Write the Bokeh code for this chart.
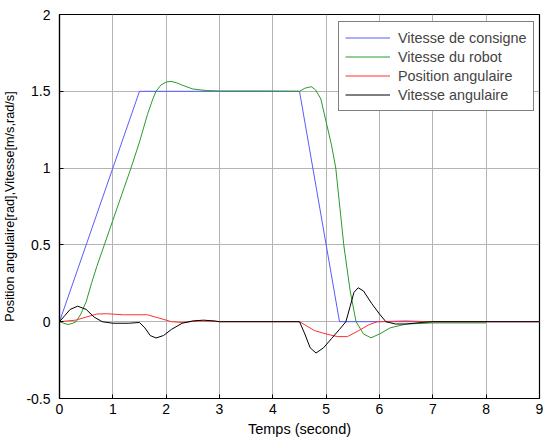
from bokeh.plotting import figure
from bokeh.models import Range1d, FixedTicker, Legend, LegendItem
from bokeh.embed import file_html
from bokeh.resources import INLINE

# Vitesse de consigne
t_cons = [0, 1.5, 4.5, 5.25, 9]
v_cons = [0, 1.5, 1.5, 0, 0]

# Vitesse du robot
t_rob = [0, 0.08, 0.16, 0.25, 0.31, 0.4, 0.5, 0.6, 0.7, 0.84, 1.0, 1.17, 1.34, 1.5, 1.65,
         1.75, 1.81, 1.9, 2.0, 2.09, 2.2, 2.3, 2.5, 2.75, 3.0, 3.8, 4.5, 4.6, 4.72, 4.8,
         4.9, 5.0, 5.1, 5.18, 5.33, 5.45, 5.56, 5.7, 5.84, 6.0, 6.2, 6.5, 7.0, 8.0]
v_rob = [0, -0.01, -0.018, -0.01, 0.0, 0.05, 0.13, 0.25, 0.36, 0.5, 0.66, 0.83, 1.0, 1.17, 1.35,
         1.45, 1.5, 1.54, 1.56, 1.565, 1.555, 1.54, 1.515, 1.505, 1.502, 1.502, 1.5, 1.52, 1.53, 1.51,
         1.45, 1.3, 1.15, 1.0, 0.5, 0.2, 0.0, -0.08, -0.105, -0.08, -0.04, -0.015, -0.008, -0.008]

# Position angulaire
t_pos = [0, 0.3, 0.5, 0.7, 0.88, 1.2, 1.65, 1.85, 2.1, 2.3, 2.6, 2.9, 3.0,
         4.5, 4.6, 4.78, 5.0, 5.21, 5.4, 5.6, 5.8, 5.96, 6.5, 6.9, 9.0]
v_pos = [0, 0.01, 0.03, 0.05, 0.052, 0.045, 0.045, 0.025, 0.0, -0.005, 0.005, 0.003, 0.0,
         0.0, -0.02, -0.058, -0.08, -0.097, -0.097, -0.06, -0.02, 0.0, 0.005, 0.0, 0.0]

# Vitesse angulaire
t_ang = [0, 0.1, 0.2, 0.34, 0.5, 0.65, 0.8, 1.0, 1.3, 1.5, 1.6, 1.7, 1.81, 1.95, 2.1, 2.3,
         2.5, 2.7, 2.9, 3.0, 4.5, 4.6, 4.7, 4.81, 4.95, 5.1, 5.25, 5.37, 5.45, 5.52, 5.6,
         5.7, 5.85, 6.0, 6.12, 6.3, 6.5, 6.8, 7.0, 9.0]
v_ang = [0, 0.04, 0.08, 0.101, 0.08, 0.03, 0.0, -0.01, -0.01, -0.005, -0.04, -0.09, -0.106, -0.09,
         -0.05, -0.01, 0.005, 0.01, 0.005, 0.0, 0.0, -0.08, -0.17, -0.204, -0.17, -0.11, -0.05,
         0.0, 0.1, 0.19, 0.221, 0.2, 0.12, 0.05, 0.0, -0.015, -0.015, -0.005, 0.0, 0.0]

x_ticks = [0, 1, 2, 3, 4, 5, 6, 7, 8, 9]
y_ticks = [-0.5, 0, 0.5, 1, 1.5, 2]
y_tick_labels = {-0.5: "-0.5", 0: "0", 0.5: "0.5", 1: "1", 1.5: "1.5", 2: "2"}

FONT = "Liberation Sans"

p = figure(width=546, height=442, output_backend="svg", toolbar_location=None,
           x_range=Range1d(0, 9), y_range=Range1d(-0.5, 2),
           min_border_left=58, min_border_right=7, min_border_top=14, min_border_bottom=44,
           x_axis_label="Temps (second)",
           y_axis_label="Position angulaire[rad],Vitesse[m/s,rad/s]")

p.outline_line_color = "black"
p.outline_line_width = 1.2
p.background_fill_color = "white"
p.border_fill_color = "white"

for ax, ticks in ((p.xaxis[0], x_ticks), (p.yaxis[0], y_ticks)):
    ax.ticker = FixedTicker(ticks=ticks)
    ax.major_tick_in = 4
    ax.major_tick_out = 0
    ax.minor_tick_in = 0
    ax.minor_tick_out = 0
    ax.axis_line_color = "black"
    ax.axis_line_width = 1.2
    ax.major_tick_line_color = "black"
    ax.major_label_text_font = FONT
    ax.major_label_text_font_size = "14px"
    ax.major_label_text_color = "black"
    ax.axis_label_text_font = FONT
    ax.axis_label_text_font_style = "normal"
    ax.axis_label_text_color = "black"

p.xaxis[0].axis_label_text_font_size = "14.5px"
p.yaxis[0].axis_label_text_font_size = "12.7px"
p.yaxis[0].major_label_overrides = y_tick_labels
p.xaxis[0].major_label_standoff = 5
p.xaxis[0].axis_label_standoff = 4
p.yaxis[0].major_label_standoff = 9
p.yaxis[0].axis_label_standoff = 6

p.xgrid.ticker = FixedTicker(ticks=x_ticks)
p.ygrid.ticker = FixedTicker(ticks=y_ticks)
p.grid.grid_line_color = "#b4b4b4"
p.grid.grid_line_width = 1

r1 = p.line(t_cons, v_cons, line_color="#5a5aff", line_width=1)
r2 = p.line(t_rob, v_rob, line_color="#2a9a2a", line_width=1)
r3 = p.line(t_pos, v_pos, line_color="#ff3030", line_width=1)
r4 = p.line(t_ang, v_ang, line_color="black", line_width=1)

legend = Legend(items=[
    LegendItem(label="Vitesse de consigne", renderers=[r1]),
    LegendItem(label="Vitesse du robot", renderers=[r2]),
    LegendItem(label="Position angulaire", renderers=[r3]),
    LegendItem(label="Vitesse angulaire", renderers=[r4]),
], location=(279, 287))
legend.margin = 0
legend.padding = 6
legend.spacing = 0
legend.label_height = 19
legend.glyph_height = 19
legend.glyph_width = 45
legend.label_standoff = 8
legend.label_text_font = FONT
legend.label_text_font_size = "14.4px"
legend.border_line_color = "black"
legend.border_line_width = 1
legend.background_fill_alpha = 1
p.add_layout(legend, "center")

open("out.html", "w").write(file_html(p, INLINE))
